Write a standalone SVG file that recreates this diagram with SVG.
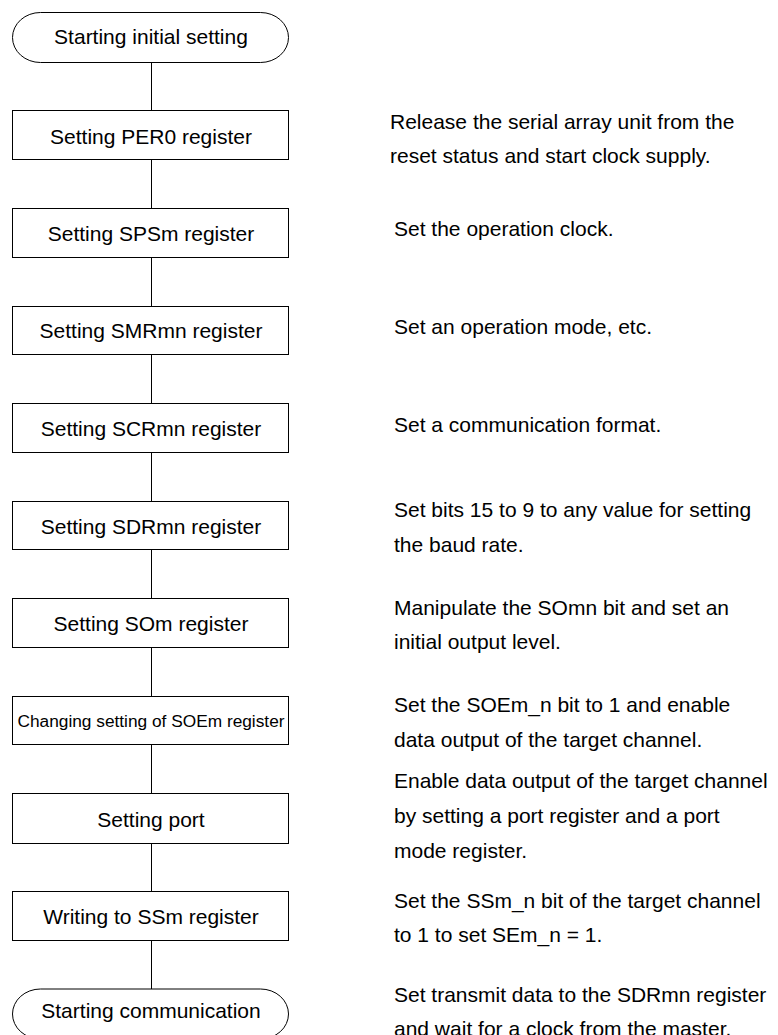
<svg xmlns="http://www.w3.org/2000/svg" width="778" height="1035" viewBox="0 0 778 1035">
<style>
.shape{fill:#fff;stroke:#000;stroke-width:1}
.lbl{font-family:"Liberation Sans",Arial,Helvetica,sans-serif;font-size:21px;fill:#000;text-anchor:middle}
.small{font-size:17.3px}
.note{font-family:"Liberation Sans",Arial,Helvetica,sans-serif;font-size:21px;fill:#000}
.conn{stroke:#000;stroke-width:1;fill:none}
</style>
<rect width="778" height="1035" fill="#fff"/>
<g id="connectors">
<line class="conn" x1="151.5" y1="62" x2="151.5" y2="110.5"/>
<line class="conn" x1="151.5" y1="159.5" x2="151.5" y2="208.5"/>
<line class="conn" x1="151.5" y1="257.5" x2="151.5" y2="306.5"/>
<line class="conn" x1="151.5" y1="354.5" x2="151.5" y2="403.5"/>
<line class="conn" x1="151.5" y1="452.5" x2="151.5" y2="501.5"/>
<line class="conn" x1="151.5" y1="549.5" x2="151.5" y2="598.5"/>
<line class="conn" x1="151.5" y1="647.5" x2="151.5" y2="696.5"/>
<line class="conn" x1="151.5" y1="744.5" x2="151.5" y2="793.5"/>
<line class="conn" x1="151.5" y1="843.5" x2="151.5" y2="891.5"/>
<line class="conn" x1="151.5" y1="940.5" x2="151.5" y2="989"/>
</g>
<g id="start">
<path class="shape" d="M40.5,12.5 H260.5 A28,25 0 0 1 260.5,62.5 H40.5 A28,25 0 0 1 40.5,12.5 Z"/>
<text class="lbl" x="151" y="44">Starting initial setting</text>
</g>
<g id="per0">
<rect class="shape" x="12.5" y="110.5" width="276" height="49"/>
<text class="lbl" x="151" y="143.5">Setting PER0 register</text>
</g>
<g id="spsm">
<rect class="shape" x="12.5" y="208.5" width="276" height="49"/>
<text class="lbl" x="151" y="240.5">Setting SPSm register</text>
</g>
<g id="smrmn">
<rect class="shape" x="12.5" y="306.5" width="276" height="48"/>
<text class="lbl" x="151" y="338">Setting SMRmn register</text>
</g>
<g id="scrmn">
<rect class="shape" x="12.5" y="403.5" width="276" height="49"/>
<text class="lbl" x="151" y="436">Setting SCRmn register</text>
</g>
<g id="sdrmn">
<rect class="shape" x="12.5" y="501.5" width="276" height="48"/>
<text class="lbl" x="151" y="533.5">Setting SDRmn register</text>
</g>
<g id="som">
<rect class="shape" x="12.5" y="598.5" width="276" height="49"/>
<text class="lbl" x="151" y="631">Setting SOm register</text>
</g>
<g id="soem">
<rect class="shape" x="12.5" y="696.5" width="276" height="48"/>
<text class="lbl small" x="151" y="726.5">Changing setting of SOEm register</text>
</g>
<g id="port">
<rect class="shape" x="12.5" y="793.5" width="276" height="50"/>
<text class="lbl" x="151" y="826.5">Setting port</text>
</g>
<g id="ssm">
<rect class="shape" x="12.5" y="891.5" width="276" height="49"/>
<text class="lbl" x="151" y="923.5">Writing to SSm register</text>
</g>
<g id="end">
<path class="shape" d="M40.5,989 H260.5 A28,25 0 0 1 260.5,1039 H40.5 A28,25 0 0 1 40.5,989 Z"/>
<text class="lbl" x="151" y="1018">Starting communication</text>
</g>
<g id="notes">
<text class="note" x="390" y="128.5">Release the serial array unit from the</text>
<text class="note" x="390" y="163">reset status and start clock supply.</text>
<text class="note" x="394" y="236">Set the operation clock.</text>
<text class="note" x="394" y="334">Set an operation mode, etc.</text>
<text class="note" x="394" y="431.5">Set a communication format.</text>
<text class="note" x="394" y="517">Set bits 15 to 9 to any value for setting</text>
<text class="note" x="394" y="552">the baud rate.</text>
<text class="note" x="394" y="615">Manipulate the SOmn bit and set an</text>
<text class="note" x="394" y="648.5">initial output level.</text>
<text class="note" x="394" y="712">Set the SOEm_n bit to 1 and enable</text>
<text class="note" x="394" y="747">data output of the target channel.</text>
<text class="note" x="394" y="787.5">Enable data output of the target channel</text>
<text class="note" x="394" y="822.5">by setting a port register and a port</text>
<text class="note" x="394" y="857.5">mode register.</text>
<text class="note" x="394" y="907.5">Set the SSm_n bit of the target channel</text>
<text class="note" x="394" y="942">to 1 to set SEm_n = 1.</text>
<text class="note" x="394" y="1002">Set transmit data to the SDRmn register</text>
<text class="note" x="394" y="1036">and wait for a clock from the master.</text>
</g>
</svg>
